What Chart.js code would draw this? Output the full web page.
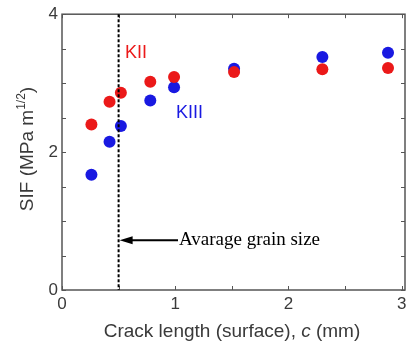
<!DOCTYPE html>
<html><head><meta charset="utf-8">
<script src="https://cdn.jsdelivr.net/npm/chart.js@4.4.1/dist/chart.umd.min.js"></script>
<style>html,body{margin:0;padding:0;background:#fff}#wrap{width:416px;height:341px}</style>
</head><body><div id="wrap"><canvas id="c" width="416" height="341"></canvas></div>
<script>
const crackLength = [0.26, 0.42, 0.52, 0.78, 0.99, 1.52, 2.30, 2.88];
const kII  = [2.40, 2.73, 2.86, 3.02, 3.09, 3.16, 3.20, 3.22];
const kIII = [1.67, 2.15, 2.38, 2.75, 2.94, 3.21, 3.38, 3.44];
const xTickLabels = [0, 1, 2, 3];
const yTickLabels = [0, 2, 4];
const grainSize = 0.5;
const arrowY = 0.72;

const textColor = '#3a3a3a';
const axisColor = '#555';

const overlay = {
  id: 'overlay',
  afterDatasetsDraw(chart) {
    const {ctx, chartArea: a, scales: {x, y}} = chart;
    ctx.save();
    // box + inward ticks
    ctx.strokeStyle = axisColor; ctx.lineWidth = 1.5;
    ctx.strokeRect(a.left, a.top, a.right - a.left, a.bottom - a.top);
    ctx.lineWidth = 1;
    ctx.beginPath();
    for (let v = 0; v <= 3.0001; v += 0.5) {
      const px = Math.round(x.getPixelForValue(v)) + 0.5;
      ctx.moveTo(px, a.bottom); ctx.lineTo(px, a.bottom - 4);
      ctx.moveTo(px, a.top); ctx.lineTo(px, a.top + 4);
    }
    for (let v = 0; v <= 4.0001; v += 0.5) {
      const py = Math.round(y.getPixelForValue(v)) + 0.5;
      ctx.moveTo(a.left, py); ctx.lineTo(a.left + 4, py);
      ctx.moveTo(a.right, py); ctx.lineTo(a.right - 4, py);
    }
    ctx.stroke();
    // dashed grain size line
    const gx = x.getPixelForValue(grainSize);
    ctx.strokeStyle = '#000'; ctx.lineWidth = 2; ctx.setLineDash([3, 2]);
    ctx.beginPath(); ctx.moveTo(gx, a.top); ctx.lineTo(gx, a.bottom); ctx.stroke();
    ctx.setLineDash([]);
    // arrow
    const ay = y.getPixelForValue(arrowY);
    ctx.lineWidth = 2;
    ctx.beginPath(); ctx.moveTo(gx + 10, ay); ctx.lineTo(178, ay); ctx.stroke();
    ctx.fillStyle = '#000';
    ctx.beginPath(); ctx.moveTo(gx + 1, ay); ctx.lineTo(gx + 14, ay - 4); ctx.lineTo(gx + 14, ay + 4); ctx.closePath(); ctx.fill();
    ctx.font = '19px "Liberation Serif", "Times New Roman", serif';
    ctx.textBaseline = 'middle'; ctx.textAlign = 'left';
    ctx.fillText('Avarage grain size', 179, ay);
    // series labels
    ctx.font = '18px "Liberation Sans", Arial, sans-serif';
    ctx.fillStyle = 'rgb(235,25,25)';
    ctx.fillText('KII', 125, 53);
    ctx.fillStyle = 'rgb(25,25,225)';
    ctx.fillText('KIII', 176, 113);
    // axis titles
    ctx.fillStyle = textColor;
    const f = '19px "Liberation Sans", Arial, sans-serif';
    const fi = 'italic 19px "Liberation Sans", Arial, sans-serif';
    const parts = [['Crack length (surface), ', f], ['c', fi], [' (mm)', f]];
    let w = 0; parts.forEach(p => { ctx.font = p[1]; w += ctx.measureText(p[0]).width; });
    let sx = 232 - w / 2;
    ctx.textBaseline = 'alphabetic';
    parts.forEach(p => { ctx.font = p[1]; ctx.fillText(p[0], sx, 337); sx += ctx.measureText(p[0]).width; });
    // y title rotated
    ctx.translate(33, 149); ctx.rotate(-Math.PI / 2);
    const fs = '12px "Liberation Sans", Arial, sans-serif';
    const yp = [['SIF (MPa m', f, 0], ['1/2', fs, -8], [')', f, 0]];
    w = 0; yp.forEach(p => { ctx.font = p[1]; w += ctx.measureText(p[0]).width; });
    sx = -w / 2;
    yp.forEach(p => { ctx.font = p[1]; ctx.fillText(p[0], sx, p[2]); sx += ctx.measureText(p[0]).width; });
    ctx.restore();
  }
};

new Chart(document.getElementById('c'), {
  type: 'scatter',
  data: {
    datasets: [
      { label: 'KII', data: crackLength.map((c, i) => ({x: c, y: kII[i]})), backgroundColor: 'rgb(235,25,25)', borderWidth: 0, pointRadius: 6, pointHoverRadius: 6 },
      { label: 'KIII', data: crackLength.map((c, i) => ({x: c, y: kIII[i]})), backgroundColor: 'rgb(25,25,225)', borderWidth: 0, pointRadius: 6, pointHoverRadius: 6 }
    ]
  },
  options: {
    responsive: false, animation: false,
    layout: { padding: { left: 0, top: 12, right: 11, bottom: 0 } },
    plugins: { legend: { display: false }, tooltip: { enabled: false } },
    scales: {
      x: {
        type: 'linear', min: 0, max: 3.03,
        grid: { display: false, drawTicks: false }, border: { display: false },
        afterFit(s) { s.height = 51; },
        afterBuildTicks(s) { s.ticks = xTickLabels.map(v => ({value: v})); },
        ticks: { color: textColor, font: { size: 17, family: '"Liberation Sans", Arial, sans-serif' }, padding: 4, maxRotation: 0, callback: v => String(v) }
      },
      y: {
        min: 0, max: 4,
        grid: { display: false, drawTicks: false }, border: { display: false },
        afterFit(s) { s.width = 62; },
        afterBuildTicks(s) { s.ticks = yTickLabels.map(v => ({value: v})); },
        ticks: { color: textColor, font: { size: 17, family: '"Liberation Sans", Arial, sans-serif' }, padding: 4, callback: v => String(v) }
      }
    }
  },
  plugins: [overlay]
});
</script></body></html>
